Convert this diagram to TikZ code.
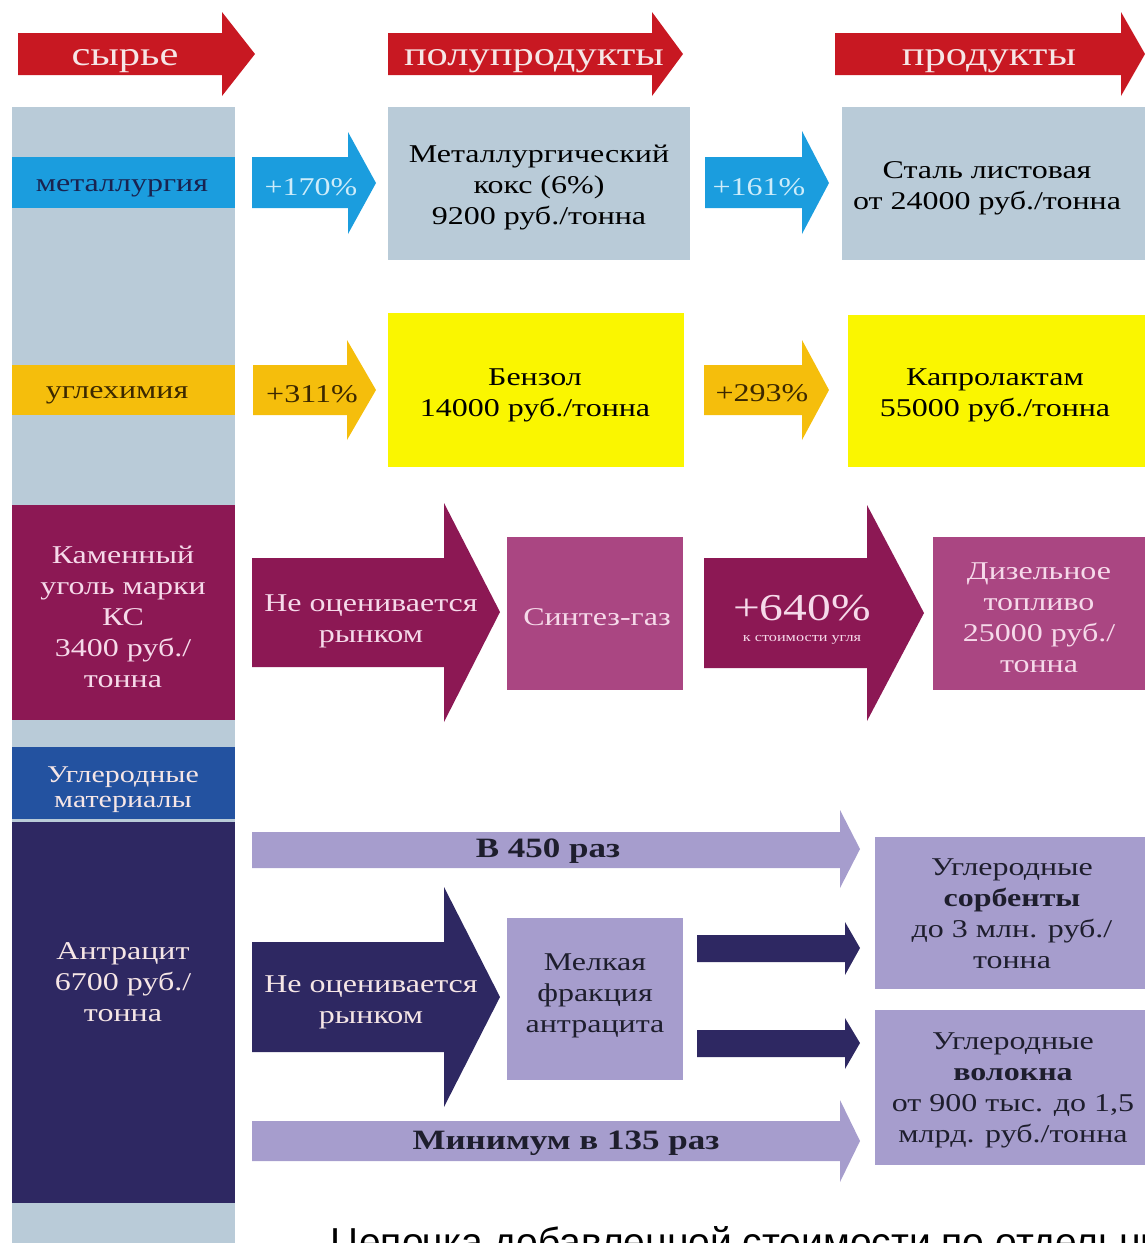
\documentclass[tikz,border=0pt]{standalone}
\usepackage{fontspec}
\setmainfont{Liberation Serif}[FakeStretch=1.25]
\newfontfamily\capfont{Liberation Sans}

\definecolor{hdrred}{RGB}{200,24,34}
\definecolor{hdrtext}{RGB}{246,230,230}
\definecolor{colgrey}{RGB}{185,203,216}
\definecolor{metblue}{RGB}{27,157,222}
\definecolor{metdark}{RGB}{25,35,80}
\definecolor{metlight}{RGB}{205,236,250}
\definecolor{uglorange}{RGB}{245,190,12}
\definecolor{ugldark}{RGB}{60,40,0}
\definecolor{benzyellow}{RGB}{250,246,0}
\definecolor{kammaroon}{RGB}{140,24,84}
\definecolor{kampink}{RGB}{246,218,234}
\definecolor{sintmagenta}{RGB}{170,70,130}
\definecolor{matblue}{RGB}{35,82,160}
\definecolor{antrnavy}{RGB}{46,40,98}
\definecolor{lavender}{RGB}{166,157,205}
\definecolor{lavdark}{RGB}{30,30,45}

\begin{document}
\begin{tikzpicture}[x=0.5pt,y=-0.5pt,
  txt/.style={align=center,inner sep=0pt,yshift=-2pt,font=\fontsize{12.8}{15.5}\selectfont},
  hdr/.style={inner sep=0pt,yshift=-3pt,text=hdrtext,font=\fontsize{17}{17}\selectfont},
  bigtxt/.style={inner sep=0pt,yshift=-1pt,text=lavdark,font=\bfseries\fontsize{14}{14}\selectfont}]
\useasboundingbox (0,0) rectangle (1145,1243);
\clip (0,0) rectangle (1145,1243);

% header
\fill[hdrred] (18,33) -- (222,33) -- (222,12) -- (255,54) -- (222,96) -- (222,75) -- (18,75) -- cycle;
\fill[hdrred] (388,33) -- (652,33) -- (652,12) -- (683,54) -- (652,96) -- (652,75) -- (388,75) -- cycle;
\fill[hdrred] (835,33) -- (1121,33) -- (1121,12) -- (1145,54) -- (1121,96) -- (1121,75) -- (835,75) -- cycle;
\node[hdr] (syr) at (125,55) {сырье};
\node[hdr] (polu) at (534,55) {полупродукты};
\node[hdr] (prod) at (989,55) {продукты};

% left column
\fill[colgrey] (12,107) rectangle (235,1243);

% metallurgy
\fill[metblue] (12,157) rectangle (235,208);
\fill[metblue] (252,157) -- (348,157) -- (348,132) -- (376,183) -- (348,234) -- (348,208) -- (252,208) -- cycle;
\fill[metblue] (705,157) -- (802,157) -- (802,131) -- (829,183) -- (802,234) -- (802,208) -- (705,208) -- cycle;
\fill[colgrey] (388,107) rectangle (690,260);
\fill[colgrey] (842,107) rectangle (1145,260);
\node[txt,text=metdark] (met) at (122,184) {металлургия};
\node[txt,text=metlight] (p170) at (311,183) {+170\%};
\node[txt] (koks) at (539,183) {Металлургический\\кокс (6\%)\\9200 руб./тонна};
\node[txt,text=metlight] (p161) at (759,183) {+161\%};
\node[txt] (stal) at (987,184) {Сталь листовая\\от 24000 руб./тонна};

% coal chemistry
\fill[uglorange] (12,365) rectangle (235,415);
\fill[uglorange] (253,365) -- (347,365) -- (347,340) -- (376,390) -- (347,440) -- (347,415) -- (253,415) -- cycle;
\fill[uglorange] (704,365) -- (802,365) -- (802,340) -- (829,390) -- (802,440) -- (802,415) -- (704,415) -- cycle;
\fill[benzyellow] (388,313) rectangle (684,467);
\fill[benzyellow] (848,315) rectangle (1145,467);
\node[txt,text=ugldark] (ugl) at (117,391) {углехимия};
\node[txt,text=ugldark] (p311) at (312,390) {+311\%};
\node[txt] (benz) at (535,391) {Бензол\\14000 руб./тонна};
\node[txt,text=ugldark] (p293) at (762,389) {+293\%};
\node[txt] (kapr) at (995,391) {Капролактам\\55000 руб./тонна};

% hard coal
\fill[kammaroon] (12,505) rectangle (235,720);
\fill[kammaroon] (252,558) -- (444,558) -- (444,503) -- (500,612) -- (444,722) -- (444,667) -- (252,667) -- cycle;
\fill[sintmagenta] (507,537) rectangle (683,690);
\fill[kammaroon] (704,558) -- (867,558) -- (867,505) -- (924,613) -- (867,721) -- (867,668) -- (704,668) -- cycle;
\fill[sintmagenta] (933,537) rectangle (1145,690);
\node[txt,text=kampink] (kam) at (123,613) {Каменный\\уголь марки\\КС\\3400 руб./\\тонна};
\node[txt,text=kampink] (neoc1) at (371,617) {Не оценивается\\рынком};
\node[txt,text=kampink] (sint) at (597,613) {Синтез-газ};
\node[txt,text=kampink] (p640) at (802,616) {{\fontsize{19}{19}\selectfont +640\%}\\[-5pt]{\fontsize{6.5}{7}\selectfont к стоимости угля}};
\node[txt,text=kampink] (diz) at (1039,614) {Дизельное\\топливо\\25000 руб./\\тонна};

% carbon materials
\fill[matblue] (12,747) rectangle (235,819);
\fill[antrnavy] (12,822) rectangle (235,1203);
\fill[lavender] (252,832) -- (840,832) -- (840,810) -- (860,849) -- (840,888) -- (840,868) -- (252,868) -- cycle;
\fill[antrnavy] (252,942) -- (444,942) -- (444,887) -- (500,997) -- (444,1107) -- (444,1052) -- (252,1052) -- cycle;
\fill[lavender] (507,918) rectangle (683,1080);
\fill[antrnavy] (697,935) -- (845,935) -- (845,922) -- (860,948) -- (845,975) -- (845,962) -- (697,962) -- cycle;
\fill[antrnavy] (697,1030) -- (845,1030) -- (845,1018) -- (860,1043) -- (845,1069) -- (845,1057) -- (697,1057) -- cycle;
\fill[lavender] (875,837) rectangle (1145,989);
\fill[lavender] (875,1010) rectangle (1145,1165);
\fill[lavender] (252,1121) -- (840,1121) -- (840,1100) -- (860,1141) -- (840,1182) -- (840,1161) -- (252,1161) -- cycle;
\node[txt,text=hdrtext,font=\fontsize{12}{12.5}\selectfont] (umat) at (123,786) {Углеродные\\материалы};
\node[txt,text=hdrtext] (antr) at (123,978) {Антрацит\\6700 руб./\\тонна};
\node[bigtxt] (b450) at (548,849) {В 450 раз};
\node[txt,text=hdrtext] (neoc2) at (371,998) {Не оценивается\\рынком};
\node[txt,text=lavdark] (melk) at (595,992) {Мелкая\\фракция\\антрацита};
\node[txt,text=lavdark] (sorb) at (1012,910) {Углеродные\\\textbf{сорбенты}\\до 3 млн. руб./\\тонна};
\node[txt,text=lavdark] (volo) at (1013,1086) {Углеродные\\\textbf{волокна}\\от 900 тыс. до 1,5\\млрд. руб./тонна};
\node[bigtxt] (m135) at (566,1141) {Минимум в 135 раз};

% caption
\node[anchor=base west,inner sep=0pt,font=\capfont\fontsize{19.5}{20}\selectfont] (cap) at (330,1255) {Цепочка добавленной стоимости по отдельным};
\end{tikzpicture}
\end{document}
